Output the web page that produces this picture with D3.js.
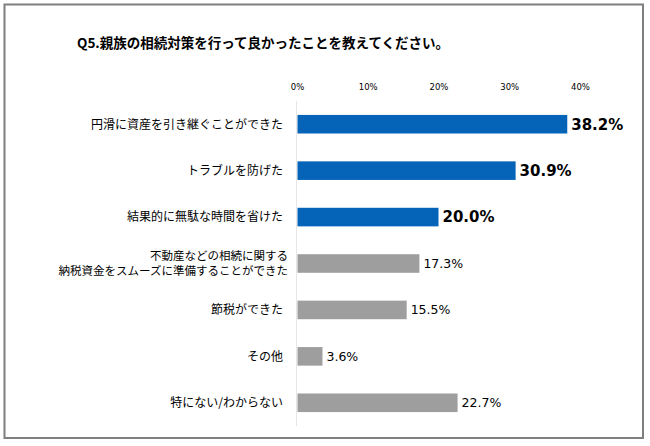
<!DOCTYPE html>
<html><head><meta charset="utf-8">
<script src="https://cdn.jsdelivr.net/npm/d3@7"></script>
<style>body{margin:0;background:#fff}svg{display:block}</style>
</head><body>
<script>
const title = "Q5.親族の相続対策を行って良かったことを教えてください。";
const categories = [
  "円滑に資産を引き継ぐことができた",
  "トラブルを防げた",
  "結果的に無駄な時間を省けた",
  "不動産などの相続に関する\n納税資金をスムーズに準備することができた",
  "節税ができた",
  "その他",
  "特にない/わからない"
];
const values = [38.2, 30.9, 20.0, 17.3, 15.5, 3.6, 22.7];
const highlighted = [true, true, true, false, false, false, false];
const tickValues = [0, 10, 20, 30, 40];

const W = 650, H = 446;
const svg = d3.select("body").append("svg").attr("width", W).attr("height", H);
svg.append("rect").attr("x", 4.5).attr("y", 4.5).attr("width", 638.5).attr("height", 433.5)
  .attr("fill", "#fff").attr("stroke", "#7f7f7f").attr("stroke-width", 2);

svg.append("text").attr("x", 263).attr("y", 48).attr("text-anchor", "middle")
  .attr("font-family", "'Noto Sans CJK JP'").attr("font-weight", "bold").attr("font-size", 13.5)
  .attr("fill", "#000").text(title);

const x = d3.scaleLinear().domain([0, 40]).range([297, 580]);
const y = d3.scaleBand().domain(categories).range([101, 426]).paddingInner(0.6).paddingOuter(0.3);

const xAxis = d3.axisTop(x).tickValues(tickValues).tickFormat(d => d + "%").tickSize(0).tickPadding(0);
const gx = svg.append("g").attr("transform", "translate(0,90)").call(xAxis);
gx.select(".domain").remove();
gx.selectAll("text").attr("font-family", "'DejaVu Sans'").attr("font-size", 8.5).attr("fill", "#000");

svg.append("line").attr("x1", x(0) - 0.5).attr("x2", x(0) - 0.5).attr("y1", y.range()[0]).attr("y2", y.range()[1])
  .attr("stroke", "#e6e6e6").attr("stroke-width", 1);

svg.append("g").selectAll("rect").data(values).join("rect")
  .attr("x", x(0) + 0.5)
  .attr("y", (d, i) => y(categories[i]))
  .attr("width", d => x(d) - x(0) - 0.5)
  .attr("height", y.bandwidth())
  .attr("fill", (d, i) => highlighted[i] ? "#0563b8" : "#9e9e9e");

svg.append("g").selectAll("text").data(values).join("text")
  .attr("x", d => x(d) + 4)
  .attr("y", (d, i) => y(categories[i]) + y.bandwidth() / 2)
  .attr("dy", "0.36em")
  .attr("font-family", "'DejaVu Sans'")
  .attr("font-weight", (d, i) => highlighted[i] ? "bold" : "normal")
  .attr("font-size", (d, i) => highlighted[i] ? 15 : 12.5)
  .attr("fill", "#000")
  .text(d => d.toFixed(1) + "%");

const lab = svg.append("g").selectAll("text").data(categories).join("text")
  .attr("text-anchor", "end")
  .attr("font-family", "'Noto Sans CJK JP'").attr("font-size", 12).attr("fill", "#000")
  .attr("transform", d => {
    const lines = d.split("\n");
    return `translate(${lines.length > 1 ? 288 : 283},${y(d) + y.bandwidth() / 2})`;
  });
lab.each(function(d) {
  const lines = d.split("\n");
  const n = lines.length;
  d3.select(this).selectAll("tspan").data(lines).join("tspan")
    .attr("x", 0)
    .attr("y", (l, j) => (j - (n - 1) / 2) * 14.5)
    .attr("dy", "0.36em")
    .attr("font-size", n > 1 ? 11.5 : 12)
    .text(l => l);
});
</script>
</body></html>
